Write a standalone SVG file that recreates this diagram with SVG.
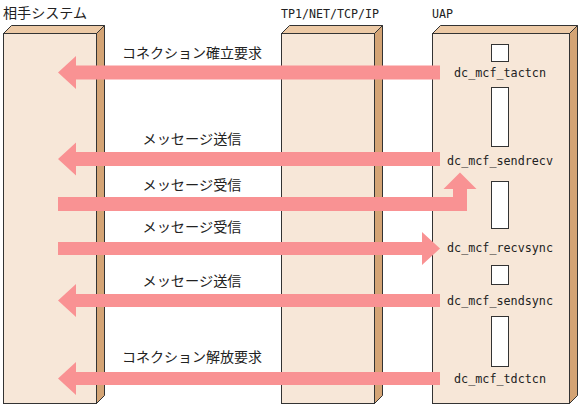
<svg xmlns="http://www.w3.org/2000/svg" width="579" height="407" viewBox="0 0 579 407">
<style>
.front{fill:#F7E7D8;stroke:#333;stroke-width:1}
.top{fill:#EDCAA6;stroke:#333;stroke-width:1;stroke-linejoin:round}
.side{fill:#D4A475;stroke:#333;stroke-width:1;stroke-linejoin:round}
.slot{fill:#fff;stroke:#333;stroke-width:1}
.arrow{fill:#F99293;stroke:none}
.jp{font-family:"Noto Sans CJK JP","Noto Sans",sans-serif;font-size:13.5px;fill:#222}
.mono{font-family:"DejaVu Sans Mono","Liberation Mono",monospace;font-size:13px;fill:#222}
</style>
<rect x="0" y="0" width="579" height="407" fill="#fff"/>
<g id="peer-system">
<text class="jp" x="3" y="18" textLength="84" lengthAdjust="spacingAndGlyphs">相手システム</text>
<polygon class="top" points="3.5,33.5 11.5,25.5 104.5,25.5 96.5,33.5"/>
<polygon class="side" points="96.5,33.5 104.5,25.5 104.5,395.5 96.5,403.5"/>
<rect class="front" x="3.5" y="33.5" width="93" height="370"/>
</g>
<g id="tp1-net">
<text class="mono" x="281" y="18" textLength="98" lengthAdjust="spacingAndGlyphs">TP1/NET/TCP/IP</text>
<polygon class="top" points="281.5,33.5 289.5,25.5 382.5,25.5 374.5,33.5"/>
<polygon class="side" points="374.5,33.5 382.5,25.5 382.5,395.5 374.5,403.5"/>
<rect class="front" x="281.5" y="33.5" width="93" height="370"/>
</g>
<g id="uap">
<text class="mono" x="432" y="18" textLength="21" lengthAdjust="spacingAndGlyphs">UAP</text>
<polygon class="top" points="432.5,33.5 440.5,25.5 577.5,25.5 569.5,33.5"/>
<polygon class="side" points="569.5,33.5 577.5,25.5 577.5,395.5 569.5,403.5"/>
<rect class="front" x="432.5" y="33.5" width="137" height="370"/>
<rect class="slot" x="491.5" y="44.5" width="17" height="17"/>
<rect class="slot" x="491.5" y="87.5" width="17" height="59"/>
<rect class="slot" x="491.5" y="181.5" width="17" height="47"/>
<rect class="slot" x="491.5" y="265.5" width="17" height="19"/>
<rect class="slot" x="491.5" y="316.5" width="17" height="50"/>
<text class="mono" x="500" y="77" text-anchor="middle" textLength="92" lengthAdjust="spacingAndGlyphs">dc_mcf_tactcn</text>
<text class="mono" x="500" y="165" text-anchor="middle" textLength="106" lengthAdjust="spacingAndGlyphs">dc_mcf_sendrecv</text>
<text class="mono" x="500" y="252" text-anchor="middle" textLength="106" lengthAdjust="spacingAndGlyphs">dc_mcf_recvsync</text>
<text class="mono" x="500" y="305" text-anchor="middle" textLength="106" lengthAdjust="spacingAndGlyphs">dc_mcf_sendsync</text>
<text class="mono" x="500" y="383" text-anchor="middle" textLength="92" lengthAdjust="spacingAndGlyphs">dc_mcf_tdctcn</text>
</g>
<g id="connectors">
<polygon class="arrow" points="58,72.5 76,56 76,65.5 440,65.5 440,79.5 76,79.5 76,89"/>
<polygon class="arrow" points="58,159 76,142.5 76,152 440,152 440,166 76,166 76,175.5"/>
<polygon class="arrow" points="58,197 453,197 453,189 443.5,189 460,172.5 476.5,189 467,189 467,211 58,211"/>
<polygon class="arrow" points="58,242 422,242 422,232 440,248.5 422,265 422,255 58,255"/>
<polygon class="arrow" points="58,300.5 76,284 76,294 440,294 440,307 76,307 76,317"/>
<polygon class="arrow" points="58,378.5 76,362 76,372 440,372 440,385 76,385 76,395"/>
<text class="jp" x="192" y="58" text-anchor="middle" textLength="140" lengthAdjust="spacingAndGlyphs">コネクション確立要求</text>
<text class="jp" x="192" y="144" text-anchor="middle" textLength="99" lengthAdjust="spacingAndGlyphs">メッセージ送信</text>
<text class="jp" x="192" y="190" text-anchor="middle" textLength="99" lengthAdjust="spacingAndGlyphs">メッセージ受信</text>
<text class="jp" x="192" y="232" text-anchor="middle" textLength="99" lengthAdjust="spacingAndGlyphs">メッセージ受信</text>
<text class="jp" x="192" y="286" text-anchor="middle" textLength="99" lengthAdjust="spacingAndGlyphs">メッセージ送信</text>
<text class="jp" x="192" y="362" text-anchor="middle" textLength="140" lengthAdjust="spacingAndGlyphs">コネクション解放要求</text>
</g>
</svg>
